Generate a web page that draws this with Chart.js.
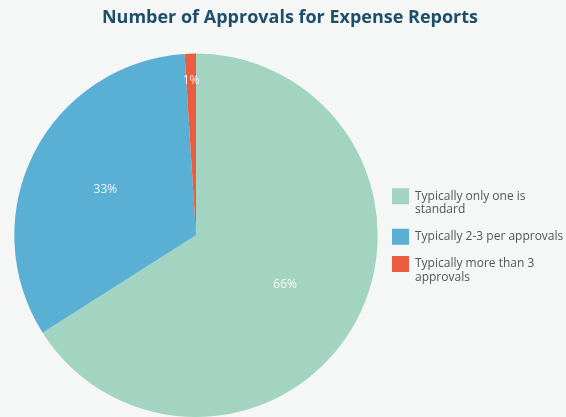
<!DOCTYPE html>
<html>
<head>
<meta charset="utf-8">
<script src="https://cdn.jsdelivr.net/npm/chart.js@4.4.1/dist/chart.umd.min.js"></script>
<style>
  html, body { margin: 0; padding: 0; background: #f5f7f6; }
  #wrap { width: 566px; height: 417px; }
</style>
</head>
<body>
<div id="wrap"><canvas id="approvalsChart"></canvas></div>
<script>
const categories = [
  ["Typically only one is", "standard"],
  ["Typically 2-3 per approvals"],
  ["Typically more than 3", "approvals"]
];
const shares = [66, 33, 1];
const colors = ["#a3d3c1", "#5aafd4", "#ea5d40"];

// draws the % text on each slice
const sliceLabels = {
  id: "sliceLabels",
  afterDatasetsDraw(chart) {
    const ctx = chart.ctx;
    const meta = chart.getDatasetMeta(0);
    ctx.save();
    ctx.font = "12px 'Open Sans'";
    ctx.fillStyle = "rgba(255,255,255,0.9)";
    ctx.textAlign = "center";
    ctx.textBaseline = "middle";
    meta.data.forEach((arc, i) => {
      const p = arc.getProps(["x", "y", "startAngle", "endAngle", "outerRadius"], true);
      const mid = (p.startAngle + p.endAngle) / 2;
      const r = shares[i] < 5 ? p.outerRadius * 0.85 : p.outerRadius * 0.56;
      ctx.fillText(shares[i] + "%", p.x + Math.cos(mid) * r, p.y + Math.sin(mid) * r);
    });
    ctx.restore();
  }
};

// eslint-disable-next-line no-unused-vars
const myChart = new Chart(document.getElementById("approvalsChart"), {
  type: "pie",
  data: {
    labels: categories,
    datasets: [
      {
        data: shares,
        backgroundColor: colors,
        borderWidth: 0
      }
    ]
  },
  options: {
    responsive: true,
    maintainAspectRatio: false,
    animation: false,
    layout: { padding: { left: 14, right: 0, top: 0, bottom: 0 } },
    plugins: {
      title: {
        display: true,
        text: "Number of Approvals for Expense Reports",
        color: "#1d4f6b",
        font: { family: "'Open Sans'", size: 18, weight: "bold" },
        padding: { top: 7, bottom: 25 }
      },
      legend: {
        position: "right",
        fullSize: false,
        maxWidth: 188,
        labels: {
          color: "#555",
          font: { family: "'Open Sans'", size: 12, lineHeight: 1.1 },
          boxWidth: 17,
          boxHeight: 16,
          padding: 14
        }
      },
      tooltip: { enabled: false }
    }
  },
  plugins: [sliceLabels]
});
</script>
</body>
</html>
